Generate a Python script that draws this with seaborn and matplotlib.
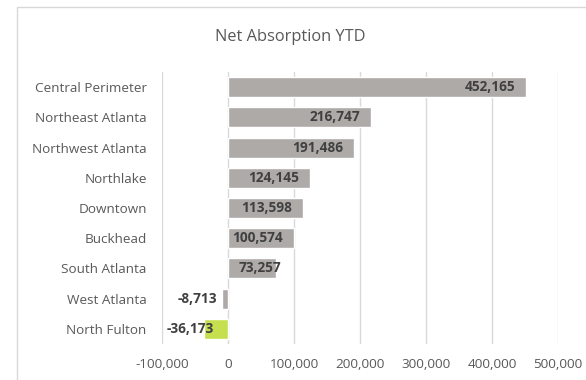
import matplotlib
matplotlib.use("Agg")
import matplotlib.pyplot as plt
from matplotlib.patches import Rectangle
from matplotlib.ticker import FuncFormatter
import seaborn as sns
import pandas as pd

categories = ["Central Perimeter", "Northeast Atlanta", "Northwest Atlanta", "Northlake",
              "Downtown", "Buckhead", "South Atlanta", "West Atlanta", "North Fulton"]
values = [452165, 216747, 191486, 124145, 113598, 100574, 73257, -8713, -36173]
bar_colors = ["#AEAAA8"] * 8 + ["#C4E04E"]
x_ticks = [-100000, 0, 100000, 200000, 300000, 400000, 500000]

df = pd.DataFrame({"cat": categories, "val": values})

sns.set_theme(style="white")
plt.rcParams["font.family"] = ["Open Sans", "DejaVu Sans"]

fig = plt.figure(figsize=(5.86, 3.80), dpi=100)
ax = fig.add_axes([162/586, 1-344/380, (558-162)/586, (344-72)/380])

sns.barplot(data=df, x="val", y="cat", hue="cat", palette=bar_colors, legend=False,
            orient="h", width=0.66, ax=ax, saturation=1)

ax.set_xlim(-100000, 500000)
ax.set_xticks(x_ticks)
ax.xaxis.set_major_formatter(FuncFormatter(lambda v, p: f"{int(v):,}"))
ax.grid(axis="x", color="#D9D9D9", linewidth=1)
ax.set_axisbelow(True)
for s in ax.spines.values():
    s.set_visible(False)
ax.set_xlabel("")
ax.set_ylabel("")
ax.tick_params(axis="both", length=0, labelsize=9.7, colors="#595959")
ax.tick_params(axis="y", pad=11)
ax.tick_params(axis="x", pad=10)

lbl = dict(va="center", fontsize=9.8, fontweight="bold", color="#404040",
           textcoords="offset points")
for i, v in enumerate(values):
    if i == 6:
        ax.annotate(f"{v:,}", xy=(0, i), xytext=(8, 0), ha="left", **lbl)
    elif v >= 0:
        ax.annotate(f"{v:,}", xy=(v, i), xytext=(-8, 0), ha="right", **lbl)
    elif i == 7:
        ax.annotate(f"{v:,}", xy=(v, i), xytext=(-4, 0), ha="right", **lbl)
    else:
        ax.annotate(f"{v:,}", xy=(v, i), xytext=(7, 0), ha="right", **lbl)

fig.text(290/586, 1-37/380, "Net Absorption YTD", ha="center", va="center",
         fontsize=11.8, color="#595959")

fig.patches.append(Rectangle((17/586, -0.1), 2, 1.1 - 7/380, transform=fig.transFigure,
                             fill=False, edgecolor="#D9D9D9", linewidth=1))

fig.savefig("out.png", dpi=100)
